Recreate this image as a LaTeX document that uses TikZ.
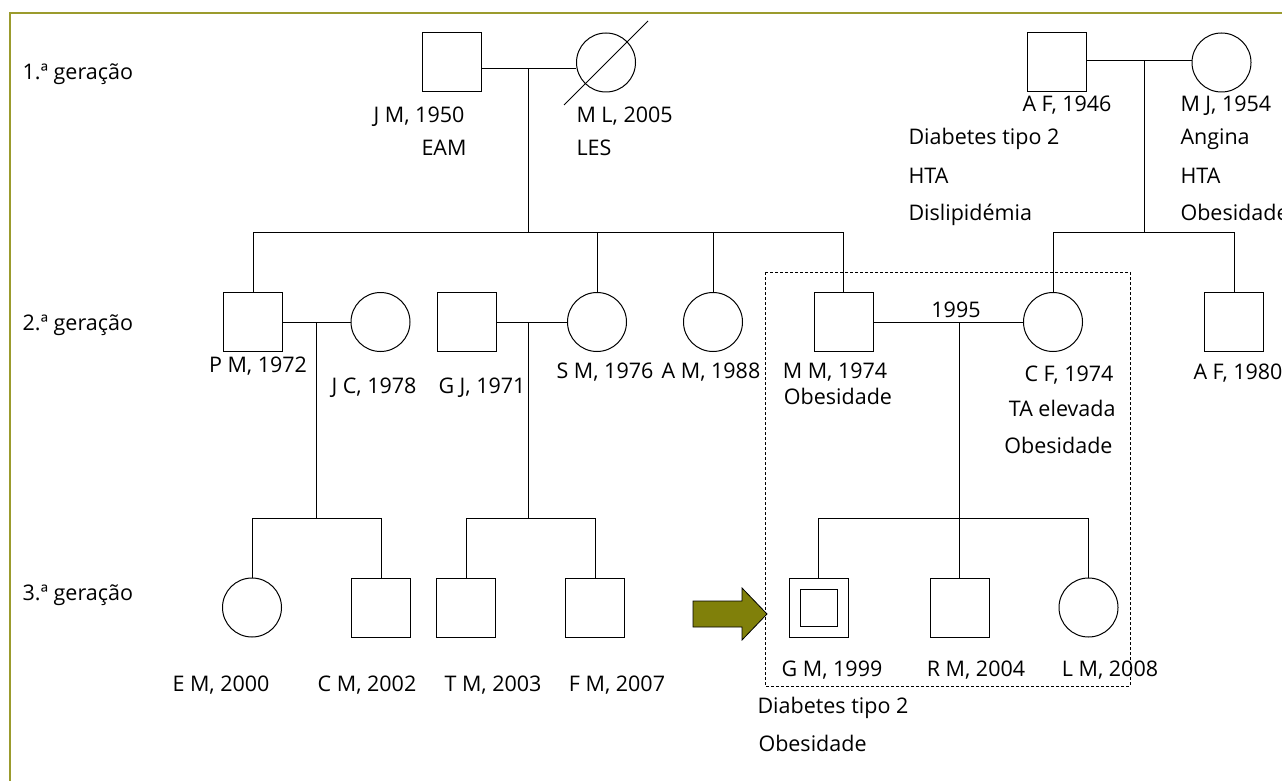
\documentclass[tikz,border=0pt]{standalone}
\usepackage{fontspec}
\setmainfont{Open Sans}
\definecolor{framecol}{RGB}{155,155,45}
\definecolor{arrowcol}{RGB}{128,128,10}
\begin{document}
\begin{tikzpicture}[x=1pt,y=-1pt,
  line width=1pt,
  sq/.style={draw,rectangle,minimum width=59pt,minimum height=59pt,inner sep=0pt},
  ci/.style={draw,circle,minimum size=59pt,inner sep=0pt},
  lbl/.style={inner sep=0pt,anchor=base,font=\fontsize{21.5}{26}\selectfont},
  lblw/.style={lbl,anchor=base west},
  lble/.style={lbl,anchor=base east},
  boxline/.style={dashed,line width=0.9pt,dash pattern=on 3pt off 2pt}]
\useasboundingbox (0,0) rectangle (1282,781);
\begin{scope}
\clip (0,0) rectangle (1282,781);
\draw[line width=2pt,framecol] (10,800) -- (10,13) -- (1300,13);
\end{scope}

% generation 1
\node[sq] (jm) at (451.5,62.5) {};
\node[ci] (ml) at (606,62.5) {};
\node[sq] (af) at (1056.5,62.5) {};
\node[ci] (mj) at (1221.5,62.5) {};
\coordinate (d1a) at (564,105);
\coordinate (d1b) at (648,21);
\draw (d1a) -- (d1b);

% generation 2
\node[sq] (pm) at (253,322) {};
\node[ci] (jc) at (380.5,322) {};
\node[sq] (gj) at (467,322) {};
\node[ci] (sm) at (597,322) {};
\node[ci] (am) at (713,322) {};
\node[sq] (mm) at (843.5,322) {};
\node[ci] (cf) at (1053,322) {};
\node[sq] (af2) at (1234,322) {};

% generation 3
\node[ci] (em) at (252,607.5) {};
\node[sq] (cm) at (381,607.5) {};
\node[sq] (tm) at (466,607.5) {};
\node[sq] (fm) at (595,607.5) {};
\node[sq] (gm) at (818.5,607.5) {};
\node[draw,rectangle,minimum size=37pt,inner sep=0pt] (gmi) at (gm.center) {};
\node[sq] (rm) at (959.5,607.5) {};
\node[ci] (lm) at (1088.5,607.5) {};

% junction coordinates
\coordinate (u1) at (528,69);
\coordinate (s1) at (528,232);
\coordinate (u2) at (1144,61);
\coordinate (s2) at (1144,232);
\coordinate (u3) at (316,322);
\coordinate (s3) at (316,518);
\coordinate (u4) at (528,322);
\coordinate (s4) at (528,518);
\coordinate (u5) at (959,322);
\coordinate (s5) at (959,518);

% marriages and descents
\draw (jm.east|-u1) -- (ml.west|-u1);
\draw (u1) -- (s1);
\draw (pm.north|-s1) -- (mm.north|-s1);
\foreach \n in {pm,sm,am,mm} \draw (\n.north|-s1) -- (\n.north);

\draw (af.east|-u2) -- (mj.west|-u2);
\draw (u2) -- (s2);
\draw (cf.north|-s2) -- (af2.north|-s2);
\foreach \n in {cf,af2} \draw (\n.north|-s2) -- (\n.north);

\draw (pm.east) -- (jc.west);
\draw (u3) -- (s3);
\draw (em.north|-s3) -- (cm.north|-s3);
\foreach \n in {em,cm} \draw (\n.north|-s3) -- (\n.north);

\draw (gj.east) -- (sm.west);
\draw (u4) -- (s4);
\draw (tm.north|-s4) -- (fm.north|-s4);
\foreach \n in {tm,fm} \draw (\n.north|-s4) -- (\n.north);

\draw (mm.east) -- (cf.west);
\draw (u5) -- (s5);
\draw (gm.north|-s5) -- (lm.north|-s5);
\foreach \n in {gm,rm,lm} \draw (\n.north|-s5) -- (\n.north);

% dashed frame round the nuclear family
\draw[boxline] (765,272) rectangle (1130,686);

% proband arrow
\draw[fill=arrowcol,line width=0.8pt] (693,601) -- (742,601) -- (742,588) -- (767,614) -- (742,640) -- (742,627) -- (693,627) -- cycle;

% labels generation 1
\node[lblw] (g1) at (22,80) {1.ª geração};
\node[lbl] (tjm) at (419,123) {J M, 1950};
\node[lbl] (tjm2) at (444,156) {EAM};
\node[lblw] (tml) at (576,123) {M L, 2005};
\node[lblw] (tml2) at (576,156) {LES};
\node[lbl] (taf) at (1067,112) {A F, 1946};
\node[lblw] (taf2) at (908,145) {Diabetes tipo 2};
\node[lblw] (taf3) at (908,183) {HTA};
\node[lblw] (taf4) at (908,220) {Dislipidémia};
\node[lblw] (tmj) at (1180,112) {M J, 1954};
\node[lblw] (tmj2) at (1180,145) {Angina};
\node[lblw] (tmj3) at (1180,183) {HTA};
\node[lblw] (tmj4) at (1180,220) {Obesidade};

% labels generation 2
\node[lblw] (g2) at (22,330) {2.ª geração};
\node[lbl] (tpm) at (258,372) {P M, 1972};
\node[lbl] (tjc) at (374,393) {J C, 1978};
\node[lbl] (tgj) at (482,393) {G J, 1971};
\node[lbl] (tsm) at (605,378) {S M, 1976};
\node[lbl] (tam) at (711,378) {A M, 1988};
\node[lbl] (tmm) at (835,378) {M M, 1974};
\node[lbl] (tmm2) at (838,404) {Obesidade};
\node[lbl] (t1995) at (956,317) {1995};
\node[lble] (tcf) at (1114,381) {C F, 1974};
\node[lble] (tcf2) at (1116,416) {TA elevada};
\node[lble] (tcf3) at (1113,453) {Obesidade};
\node[lblw] (taf5) at (1193,379) {A F, 1980};

% labels generation 3
\node[lblw] (g3) at (22,600) {3.ª geração};
\node[lbl] (tem) at (221,691) {E M, 2000};
\node[lbl] (tcm) at (367,691) {C M, 2002};
\node[lbl] (ttm) at (493,691) {T M, 2003};
\node[lbl] (tfm) at (617,691) {F M, 2007};
\node[lbl] (tgm) at (832,676) {G M, 1999};
\node[lbl] (trm) at (976,676) {R M, 2004};
\node[lbl] (tlm) at (1110,676) {L M, 2008};
\node[lblw] (tgm2) at (757,713) {Diabetes tipo 2};
\node[lblw] (tgm3) at (758,751) {Obesidade};
\end{tikzpicture}
\end{document}
